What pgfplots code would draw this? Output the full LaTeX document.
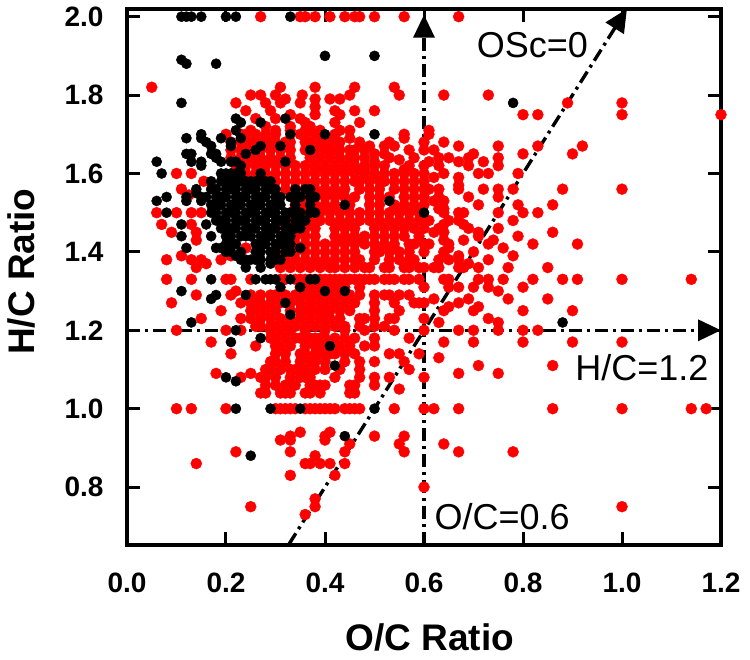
\documentclass[border=0pt]{standalone}
\usepackage{fontspec}
\setmainfont{Liberation Sans}
\usepackage{pgfplots}
\pgfplotsset{compat=1.18}
\usetikzlibrary{arrows.meta}

\tikzset{refline/.style={black, line width=3.4pt,
  dash pattern=on 13pt off 5pt on 3pt off 5pt,
  -{Triangle[length=23pt,width=21pt]}}}

\begin{document}
\begin{tikzpicture}
  \useasboundingbox (-127pt,-115pt) rectangle (623pt,545pt);
  \begin{axis}[
    at={(0pt,0pt)}, anchor=origin, scale only axis,
    width=594pt, height=536pt,
    xmin=0, xmax=1.2, ymin=0.6523, ymax=2.0196,
    clip=false,
    xtick={0,0.2,0.4,0.6,0.8,1.0,1.2},
    ytick={0.8,1.0,1.2,1.4,1.6,1.8,2.0},
    xticklabel style={/pgf/number format/.cd, fixed, fixed zerofill, precision=1, assume math mode=true},
    yticklabel style={/pgf/number format/.cd, fixed, fixed zerofill, precision=1, assume math mode=true},
    tick label style={font=\fontsize{28}{30}\selectfont\bfseries},
    tick align=inside, major tick length=13pt,
    tick style={black, line width=3pt},
    axis line style={black, line width=4pt},
    xlabel={O/C Ratio}, ylabel={H/C Ratio},
    label style={font=\fontsize{37}{40}\selectfont\bfseries},
    xlabel style={at={(axis description cs:0.51,0)}, anchor=center, yshift=-92pt},
    ylabel style={at={(axis description cs:0,0.51)}, anchor=center, yshift=106pt},
    xticklabel shift=24pt, yticklabel shift=20pt,
  ]
  % red series, row by row
  \addplot[only marks, mark=*, mark size=5.5pt, red, mark options={draw=red, fill=red, line width=0.4pt}] coordinates {
    (.27,2.0) (.35,2.0) (.36,2.0) (.38,2.0) (.41,2.0) (.44,2.0) (.46,2.0) (.47,2.0) (.50,2.0) (.56,2.0) (.67,2.0)
    (.05,1.82) (.31,1.82) (.38,1.82) (.46,1.82) (.54,1.82)
    (.55,1.80) (.25,1.80) (.27,1.80) (.30,1.80) (.32,1.79) (.354,1.80) (.38,1.79) (.41,1.79) (.43,1.79) (.45,1.80) (.64,1.80) (.73,1.80)
    (.22,1.78) (.31,1.78) (.35,1.78) (.28,1.78) (.24,1.76) (.29,1.76) (.38,1.77) (.38,1.75) (.42,1.76) (.43,1.75) (.46,1.76) (.50,1.76) (.33,1.75)
    (.89,1.78) (1.0,1.78) (1.0,1.75) (1.20,1.75) (.80,1.75) (.83,1.75)
    (.30,1.74) (.26,1.74) (.35,1.74) (.47,1.73) (.42,1.73) (.36,1.73) (.37,1.72) (.28,1.72) (.33,1.72)
    (.25,1.71) (.30,1.71) (.33,1.71) (.36,1.71) (.39,1.71) (.45,1.71) (.43,1.71) (.56,1.70) (.56,1.69) (.61,1.71) (.61,1.70)
    (.20,1.70) (.23,1.70) (.24,1.70) (.26,1.70) (.28,1.70) (.30,1.70) (.35,1.70) (.36,1.70) (.38,1.70) (.39,1.70) (.42,1.70) (.45,1.69)
    (.21,1.68) (.23,1.68) (.24,1.68) (.25,1.68) (.26,1.68) (.27,1.68) (.28,1.68) (.29,1.68) (.30,1.68) (.32,1.68) (.33,1.68) (.36,1.68) (.37,1.68) (.39,1.68) (.40,1.68) (.41,1.68) (.43,1.68) (.47,1.68) (.49,1.67) (.53,1.68) (.52,1.67) (.54,1.67) (.60,1.68) (.64,1.68) (.67,1.67) (.75,1.67) (.83,1.67) (.92,1.67)
    (.21,1.66) (.23,1.66) (.25,1.66) (.27,1.66) (.29,1.66) (.31,1.66) (.33,1.66) (.36,1.66) (.38,1.66) (.40,1.66) (.41,1.66) (.42,1.66) (.43,1.66) (.45,1.66) (.46,1.66) (.48,1.66) (.50,1.65) (.57,1.66) (.52,1.65) (.60,1.66) (.62,1.66) (.90,1.65) (.80,1.65) (.70,1.65)
    (.21,1.64) (.23,1.64) (.25,1.64) (.27,1.64) (.29,1.64) (.31,1.64) (.33,1.64) (.37,1.64) (.39,1.64) (.41,1.64) (.43,1.64) (.45,1.64) (.46,1.64) (.48,1.64) (.50,1.63) (.53,1.64) (.55,1.635) (.58,1.64) (.61,1.63) (.63,1.64) (.65,1.64) (.69,1.64) (.75,1.64)
    (.22,1.62) (.24,1.62) (.26,1.62) (.28,1.62) (.30,1.62) (.32,1.62) (.34,1.62) (.36,1.62) (.38,1.62) (.40,1.62) (.42,1.62) (.44,1.62) (.46,1.62) (.48,1.62) (.50,1.62) (.52,1.62) (.56,1.61) (.57,1.62) (.60,1.62) (.63,1.62) (.67,1.63) (.69,1.62) (.72,1.63) (.75,1.62)
    (.10,1.60) (.13,1.60) (.24,1.60) (.26,1.60) (.28,1.60) (.30,1.60) (.32,1.60) (.34,1.60) (.36,1.60) (.38,1.60) (.40,1.60) (.42,1.60) (.44,1.60) (.46,1.60) (.48,1.60) (.50,1.60) (.52,1.60) (.54,1.60) (.56,1.60) (.58,1.60) (.60,1.60) (.64,1.60) (.71,1.60) (.73,1.60) (.79,1.60)
    (.155,1.58) (.26,1.58) (.28,1.58) (.30,1.58) (.32,1.58) (.34,1.58) (.36,1.58) (.38,1.58) (.40,1.58) (.42,1.58) (.44,1.58) (.46,1.58) (.47,1.58) (.49,1.58) (.51,1.58) (.52,1.58) (.54,1.58) (.56,1.58) (.58,1.58) (.60,1.58) (.62,1.59) (.67,1.59) (.67,1.57)
    (.11,1.56) (.32,1.56) (.34,1.56) (.36,1.56) (.38,1.56) (.40,1.56) (.42,1.56) (.44,1.56) (.47,1.56) (.49,1.56) (.51,1.56) (.54,1.56) (.56,1.56) (.58,1.56) (.60,1.56) (.61,1.56) (.63,1.56) (.67,1.56) (.72,1.56) (.75,1.56) (.78,1.56) (.88,1.56) (1.0,1.56)
    (.125,1.545) (.36,1.54) (.38,1.54) (.40,1.54) (.42,1.54) (.44,1.54) (.46,1.54) (.49,1.54) (.51,1.54) (.53,1.54) (.56,1.54) (.58,1.54) (.60,1.54) (.63,1.54) (.69,1.54) (.75,1.54)
    (.34,1.52) (.36,1.52) (.38,1.52) (.40,1.52) (.42,1.52) (.45,1.52) (.49,1.52) (.51,1.52) (.54,1.52) (.56,1.52) (.58,1.52) (.60,1.52) (.62,1.53) (.64,1.53) (.71,1.52) (.79,1.52) (.86,1.52)
    (.06,1.50) (.10,1.50) (.13,1.50) (.15,1.50) (.33,1.50) (.35,1.50) (.37,1.50) (.39,1.50) (.41,1.50) (.43,1.50) (.45,1.50) (.47,1.50) (.49,1.50) (.51,1.50) (.53,1.50) (.55,1.50) (.57,1.50) (.59,1.50) (.63,1.51) (.64,1.51) (.64,1.50) (.67,1.50) (.68,1.50) (.75,1.50) (.80,1.50) (.83,1.50)
    (.07,1.47) (.13,1.47) (.33,1.48) (.35,1.48) (.37,1.48) (.39,1.48) (.41,1.48) (.43,1.48) (.45,1.48) (.47,1.48) (.49,1.48) (.51,1.48) (.53,1.48) (.55,1.48) (.57,1.48) (.59,1.48) (.61,1.48) (.65,1.48) (.67,1.48) (.68,1.47) (.78,1.48) (.64,1.47)
    (.09,1.45) (.14,1.45) (.32,1.46) (.34,1.46) (.36,1.46) (.38,1.46) (.42,1.46) (.44,1.46) (.46,1.46) (.50,1.46) (.52,1.46) (.54,1.46) (.56,1.46) (.58,1.46) (.60,1.46) (.63,1.46) (.69,1.46) (.75,1.46) (.62,1.45) (.64,1.45) (.71,1.45) (.86,1.45)
    (.14,1.43) (.32,1.44) (.34,1.44) (.36,1.44) (.38,1.44) (.42,1.44) (.44,1.44) (.46,1.44) (.48,1.44) (.50,1.44) (.52,1.44) (.54,1.44) (.56,1.44) (.59,1.44) (.71,1.44) (.79,1.44) (.64,1.43) (.68,1.43) (.74,1.43)
    (.24,1.41) (.32,1.42) (.34,1.42) (.36,1.42) (.38,1.42) (.40,1.42) (.42,1.42) (.44,1.42) (.46,1.42) (.48,1.42) (.50,1.42) (.52,1.42) (.54,1.42) (.57,1.42) (.58,1.42) (.60,1.42) (.61,1.42) (.65,1.42) (.73,1.42) (.82,1.42) (.91,1.42) (.65,1.41) (.76,1.41)
    (.30,1.40) (.32,1.40) (.34,1.40) (.36,1.40) (.38,1.40) (.40,1.40) (.42,1.40) (.44,1.40) (.46,1.40) (.50,1.40) (.51,1.40) (.53,1.40) (.55,1.40) (.57,1.40) (.60,1.40) (.64,1.40) (.70,1.40)
    (.08,1.38) (.11,1.39) (.13,1.38) (.15,1.38) (.16,1.37) (.19,1.38) (.21,1.39) (.30,1.38) (.32,1.38) (.34,1.38) (.36,1.38) (.38,1.38) (.40,1.38) (.42,1.38) (.44,1.38) (.46,1.38) (.47,1.38) (.50,1.38) (.53,1.38) (.55,1.38) (.57,1.38) (.58,1.38) (.63,1.38) (.65,1.38) (.67,1.38) (.67,1.39) (.73,1.38) (.78,1.39) (.69,1.37)
    (.14,1.36) (.31,1.36) (.33,1.36) (.35,1.36) (.37,1.36) (.39,1.36) (.41,1.36) (.42,1.36) (.44,1.36) (.46,1.36) (.48,1.36) (.49,1.36) (.52,1.36) (.53,1.36) (.56,1.36) (.57,1.36) (.59,1.36) (.60,1.36) (.62,1.36) (.63,1.36) (.67,1.36) (.68,1.36) (.71,1.36) (.77,1.36) (.85,1.36)
    (.08,1.33) (.13,1.33) (.20,1.33) (.21,1.33) (.25,1.33) (.31,1.33) (.32,1.33) (.34,1.33) (.35,1.33) (.36,1.33) (.37,1.33) (.38,1.33) (.39,1.33) (.40,1.33) (.41,1.33) (.42,1.33) (.43,1.33) (.44,1.33) (.45,1.33) (.46,1.33) (.47,1.33) (.48,1.33) (.49,1.33) (.50,1.33) (.52,1.33) (.53,1.33) (.54,1.33) (.56,1.33) (.57,1.33) (.59,1.33) (.64,1.33) (.65,1.33) (.71,1.33) (.73,1.33) (.76,1.33) (.82,1.33) (.88,1.33) (.91,1.33) (1.0,1.33) (1.14,1.33)
    (.35,1.31) (.37,1.31) (.39,1.31) (.40,1.31) (.42,1.31) (.44,1.31) (.47,1.31) (.60,1.31) (.65,1.31) (.67,1.31) (.70,1.31) (.73,1.31) (.80,1.31)
    (.14,1.29) (.21,1.29) (.22,1.30) (.25,1.29) (.27,1.29) (.29,1.29) (.30,1.29) (.32,1.29) (.34,1.29) (.35,1.29) (.36,1.29) (.37,1.29) (.38,1.29) (.39,1.29) (.41,1.29) (.43,1.29) (.45,1.29) (.47,1.29) (.50,1.29) (.52,1.29) (.53,1.29) (.55,1.29) (.57,1.29) (.75,1.30) (.62,1.28) (.69,1.28) (.77,1.28) (.85,1.28)
    (.09,1.27) (.23,1.27) (.25,1.27) (.26,1.27) (.27,1.27) (.29,1.27) (.31,1.27) (.33,1.27) (.35,1.27) (.37,1.27) (.39,1.27) (.40,1.27) (.42,1.27) (.44,1.27) (.46,1.27) (.50,1.27) (.54,1.27) (.58,1.27) (.59,1.27) (.60,1.27) (.67,1.27)
    (.19,1.25) (.25,1.25) (.26,1.25) (.28,1.25) (.30,1.25) (.33,1.25) (.35,1.25) (.36,1.25) (.37,1.25) (.38,1.25) (.39,1.25) (.40,1.25) (.41,1.25) (.43,1.25) (.45,1.25) (.50,1.25) (.55,1.25) (.64,1.25) (.65,1.26) (.70,1.25) (.71,1.26) (.80,1.25) (.90,1.25)
    (.15,1.23) (.23,1.23) (.25,1.23) (.27,1.23) (.29,1.23) (.31,1.23) (.33,1.23) (.35,1.23) (.37,1.23) (.39,1.23) (.40,1.23) (.41,1.23) (.43,1.23) (.47,1.23) (.48,1.23) (.50,1.23) (.53,1.23) (.54,1.23) (.60,1.23) (.73,1.23)
    (.26,1.21) (.27,1.21) (.29,1.21) (.30,1.21) (.32,1.21) (.34,1.21) (.36,1.21) (.38,1.21) (.40,1.21) (.42,1.21) (.44,1.21) (.47,1.21) (.50,1.21) (.52,1.21) (.63,1.22) (.75,1.22)
    (.10,1.20) (.20,1.20) (.23,1.20) (.29,1.20) (.31,1.20) (.33,1.20) (.36,1.20) (.40,1.20) (.44,1.20) (.48,1.20) (.54,1.20) (.60,1.20) (.67,1.20) (.70,1.20) (.75,1.20) (.80,1.20) (.83,1.20)
    (.17,1.17) (.29,1.18) (.30,1.18) (.32,1.18) (.34,1.18) (.35,1.18) (.36,1.18) (.37,1.18) (.38,1.18) (.39,1.18) (.40,1.18) (.42,1.18) (.44,1.18) (.46,1.18) (.50,1.18) (.57,1.18) (.64,1.17) (.70,1.17) (.80,1.17) (.90,1.17) (1.0,1.17)
    (.26,1.16) (.30,1.16) (.31,1.16) (.33,1.16) (.36,1.16) (.38,1.16) (.40,1.16) (.43,1.16) (.45,1.16) (.48,1.16) (.50,1.16)
    (.21,1.14) (.30,1.14) (.32,1.14) (.35,1.14) (.36,1.14) (.38,1.14) (.39,1.14) (.40,1.14) (.41,1.14) (.42,1.14) (.44,1.14) (.46,1.14) (.53,1.14) (.55,1.14) (.59,1.14) (.63,1.13)
    (.29,1.12) (.30,1.12) (.32,1.12) (.35,1.12) (.37,1.12) (.38,1.12) (.40,1.12) (.44,1.12) (.47,1.12) (.50,1.12) (.56,1.12) (.71,1.11) (.86,1.11)
    (.18,1.09) (.25,1.09) (.28,1.10) (.29,1.10) (.31,1.10) (.33,1.10) (.34,1.10) (.35,1.10) (.36,1.10) (.38,1.10) (.40,1.10) (.43,1.10) (.47,1.10) (.57,1.10) (.67,1.09) (.75,1.09)
    (.23,1.08) (.27,1.08) (.28,1.08) (.30,1.08) (.33,1.08) (.35,1.08) (.36,1.08) (.37,1.08) (.42,1.08) (.47,1.08) (.50,1.08) (.53,1.08) (.60,1.08)
    (.28,1.06) (.30,1.06) (.32,1.06) (.33,1.06) (.34,1.06) (.37,1.06) (.38,1.06) (.39,1.06) (.40,1.06) (.45,1.06) (.46,1.06) (.50,1.06)
    (.27,1.04) (.28,1.04) (.31,1.04) (.32,1.04) (.33,1.04) (.36,1.04) (.37,1.04) (.39,1.04) (.45,1.04) (.46,1.04) (.55,1.05)
    (.10,1.0) (.13,1.0) (.20,1.0) (.30,1.0) (.31,1.0) (.32,1.0) (.33,1.0) (.34,1.0) (.36,1.0) (.37,1.0) (.38,1.0) (.39,1.0) (.40,1.0) (.41,1.0) (.42,1.0) (.44,1.0) (.45,1.0) (.46,1.0) (.47,1.0) (.54,1.0) (.60,1.0) (.62,1.0) (.67,1.0) (.86,1.0) (1.0,1.0) (1.14,1.0) (1.17,1.0)
    (.31,.92) (.33,.93) (.33,.92) (.35,.94) (.40,.93) (.40,.92) (.41,.94) (.45,.91) (.44,.89) (.50,.93) (.56,.93) (.55,.91) (.56,.89) (.64,.91) (.67,.89) (.78,.89)
    (.33,.89) (.22,.89) (.14,.86) (.38,.88) (.36,.86) (.37,.86) (.39,.86) (.41,.86) (.44,.86) (.33,.83) (.42,.83) (.60,.80)
    (.38,.77) (.38,.75) (.25,.75) (.36,.73) (1.0,.75)
    (.25,1.67) (.27,1.67) (.29,1.67) (.31,1.67) (.26,1.63) (.28,1.63) (.30,1.63) (.32,1.63) (.38,1.61) (.40,1.61) (.42,1.61) (.44,1.61) (.46,1.61) (.48,1.61) (.39,1.55) (.41,1.55) (.43,1.55) (.39,1.51) (.41,1.51) (.43,1.43) (.45,1.43) (.47,1.43)
  };
  % black series
  \addplot[only marks, mark=*, mark size=5.1pt, black, mark options={draw=black, fill=black, line width=0.4pt}] coordinates {
    (.11,2.0) (.12,2.0) (.13,2.0) (.15,2.0) (.20,2.0) (.22,2.0) (.33,2.0)
    (.40,1.90) (.50,1.90) (.11,1.89) (.12,1.88) (.18,1.88) (.11,1.78) (.78,1.78)
    (.32,1.74) (.22,1.74) (.23,1.73) (.22,1.71) (.27,1.73) (.33,1.70) (.40,1.70) (.50,1.70)
    (.15,1.70) (.12,1.69) (.15,1.69) (.16,1.68) (.17,1.67) (.19,1.69) (.21,1.68) (.21,1.67) (.23,1.69) (.27,1.67) (.26,1.66) (.31,1.67) (.37,1.66)
    (.24,1.65) (.12,1.65) (.13,1.65) (.13,1.63) (.17,1.65) (.18,1.65) (.18,1.64) (.19,1.63) (.32,1.63) (.06,1.63) (.07,1.60) (.15,1.63) (.15,1.62) (.21,1.63) (.22,1.63) (.23,1.62)
    (.19,1.60) (.20,1.60) (.21,1.60) (.22,1.60) (.23,1.60) (.27,1.60)
    (.17,1.58) (.19,1.58) (.20,1.58) (.21,1.58) (.22,1.58) (.23,1.58) (.24,1.58) (.25,1.58) (.26,1.58) (.27,1.58) (.28,1.58) (.29,1.58)
    (.14,1.56) (.17,1.56) (.18,1.56) (.20,1.56) (.21,1.56) (.22,1.56) (.24,1.56) (.25,1.56) (.26,1.56) (.28,1.56) (.29,1.56) (.30,1.56) (.34,1.56) (.36,1.56) (.37,1.56)
    (.14,1.55) (.15,1.54) (.16,1.54) (.18,1.54) (.19,1.54) (.20,1.54) (.22,1.54) (.23,1.54) (.24,1.54) (.26,1.54) (.27,1.54) (.28,1.54) (.30,1.54) (.31,1.54) (.33,1.54) (.34,1.54) (.35,1.54) (.37,1.54) (.38,1.54)
    (.06,1.53) (.08,1.54) (.12,1.54) (.12,1.53) (.15,1.53) (.44,1.52) (.53,1.53)
    (.17,1.52) (.18,1.52) (.19,1.52) (.21,1.52) (.22,1.52) (.23,1.52) (.25,1.52) (.26,1.52) (.27,1.52) (.29,1.52) (.30,1.52) (.31,1.52) (.34,1.52) (.37,1.52)
    (.08,1.50) (.60,1.50) (.17,1.50) (.18,1.50) (.20,1.50) (.21,1.50) (.22,1.50) (.24,1.50) (.25,1.50) (.26,1.50) (.28,1.50) (.29,1.50) (.30,1.50) (.32,1.50) (.33,1.50) (.34,1.50) (.35,1.50) (.37,1.50) (.38,1.50)
    (.11,1.47) (.16,1.47) (.18,1.48) (.19,1.48) (.20,1.48) (.22,1.48) (.23,1.48) (.24,1.48) (.26,1.48) (.27,1.48) (.28,1.48) (.30,1.48) (.31,1.48) (.32,1.48) (.34,1.48) (.35,1.48) (.36,1.48)
    (.19,1.46) (.20,1.46) (.21,1.46) (.22,1.46) (.24,1.46) (.25,1.46) (.26,1.46) (.28,1.46) (.29,1.46) (.30,1.46) (.32,1.46) (.33,1.46) (.34,1.46) (.35,1.46)
    (.11,1.44) (.17,1.44) (.20,1.44) (.21,1.44) (.23,1.44) (.24,1.44) (.25,1.44) (.27,1.44) (.28,1.44) (.29,1.44) (.31,1.44) (.32,1.44) (.33,1.44)
    (.20,1.42) (.21,1.42) (.22,1.42) (.26,1.42) (.27,1.42) (.28,1.42) (.30,1.42) (.31,1.42) (.32,1.42) (.33,1.42)
    (.12,1.41) (.18,1.41) (.19,1.41) (.35,1.41) (.20,1.40) (.21,1.40) (.22,1.39) (.23,1.40) (.26,1.40) (.27,1.40) (.29,1.40) (.30,1.40) (.32,1.40) (.33,1.40)
    (.23,1.38) (.24,1.38) (.25,1.38) (.26,1.38) (.27,1.38) (.29,1.38) (.30,1.38) (.31,1.38) (.24,1.36) (.27,1.36) (.29,1.37)
    (.17,1.33) (.26,1.33) (.28,1.33) (.29,1.33) (.30,1.33) (.33,1.33) (.37,1.33) (.38,1.33)
    (.31,1.31) (.35,1.31) (.11,1.30) (.17,1.28) (.18,1.29) (.24,1.29) (.40,1.30) (.44,1.30) (.32,1.27) (.33,1.24)
    (.13,1.22) (.88,1.22) (.22,1.20) (.21,1.17) (.27,1.18) (.41,1.16) (.42,1.11) (.20,1.08) (.22,1.07)
    (.29,1.0) (.22,1.0) (.35,1.0) (.50,1.0) (.44,.93) (.25,.88)
  };
  % reference lines
  \addplot[refline] coordinates {(0,1.2) (1.2,1.2)};
  \addplot[refline] coordinates {(0.6,0.6523) (0.6,2.005)};
  \addplot[refline] coordinates {(0.327,0.654) (1.01,2.02)};
  \node[font=\fontsize{36}{38}\selectfont] at (axis cs:0.819,1.928) {OSc=0};
  \node[font=\fontsize{36}{38}\selectfont, fill=white, inner sep=1pt] at (axis cs:1.040,1.104) {H/C=1.2};
  \node[font=\fontsize{36}{38}\selectfont, fill=white, inner sep=1pt] at (axis cs:0.758,0.724) {O/C=0.6};
  \end{axis}
\end{tikzpicture}
\end{document}
